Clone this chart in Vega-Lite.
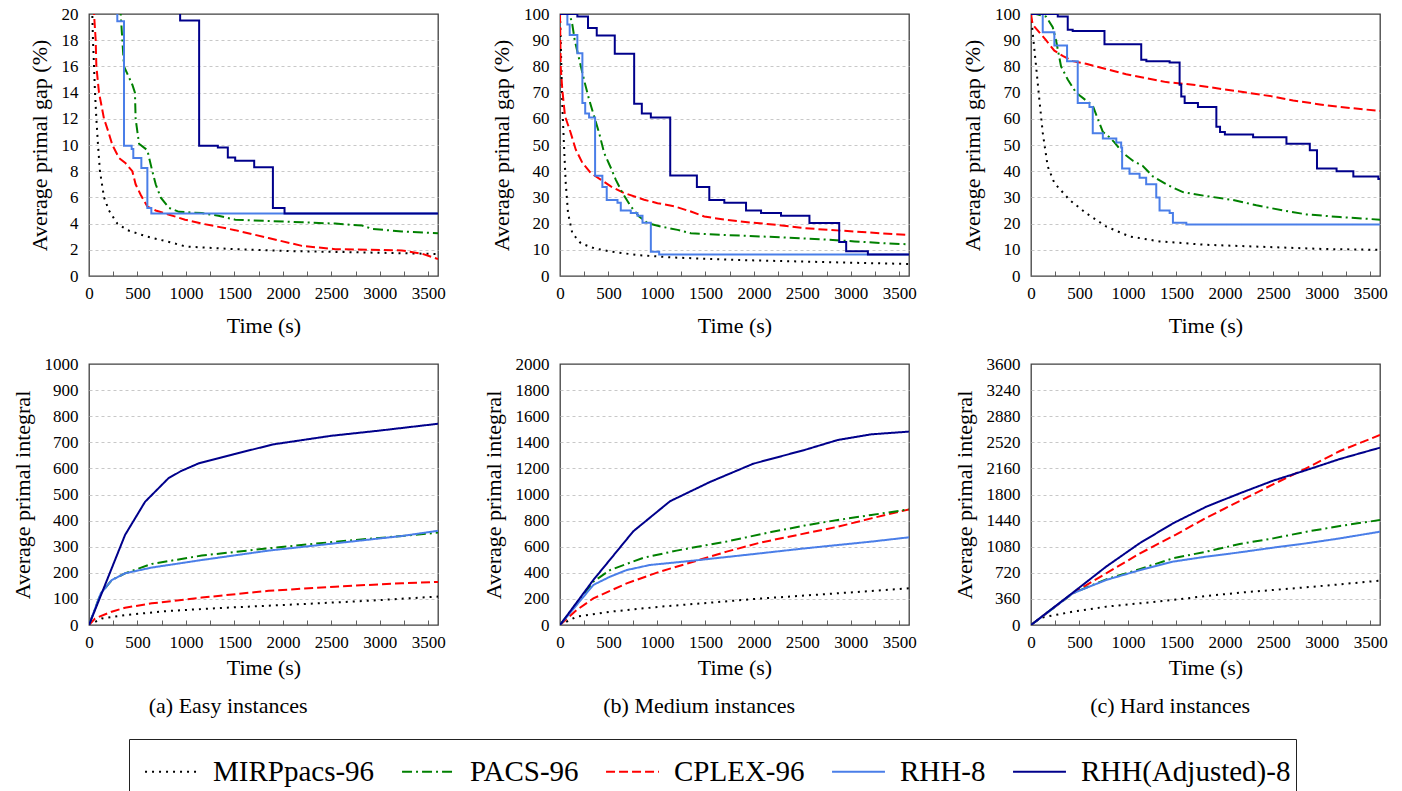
{
  "$schema": "https://vega.github.io/schema/vega-lite/v6.json",
  "background": "white",
  "padding": {"left": 10, "top": 4, "right": 5, "bottom": 0},
  "columns": 3,
  "bounds": "flush",
  "spacing": {"row": 88, "column": 122},
  "config": {
    "font": "Liberation Serif",
    "view": {"stroke": "#404040", "strokeWidth": 1.3},
    "axis": {"labelFont": "Liberation Serif", "titleFont": "Liberation Serif", "labelFontSize": 17, "labelColor": "#000", "titleFontSize": 22, "titleFontWeight": "normal", "titleColor": "#000", "domain": false, "gridColor": "#c8c8c8", "gridDash": [3, 3], "gridWidth": 1, "tickColor": "#606060", "labelOverlap": false, "labelFlush": false, "format": "d"},
    "axisX": {"grid": false, "tickSize": -5, "labelPadding": 14, "titlePadding": 14},
    "axisY": {"ticks": false, "labelPadding": 11, "titlePadding": 10},
    "legend": {"orient": "none", "legendX": 40, "legendY": 725, "direction": "horizontal", "labelFont": "Liberation Serif", "labelFontSize": 29, "labelColor": "#000", "labelLimit": 500, "symbolType": "stroke", "symbolSize": 2800, "symbolStrokeWidth": 2, "symbolOffset": 10, "strokeColor": "#222", "fillColor": "white", "padding": 5, "columnPadding": 16, "labelOffset": 14},
    "title": {"font": "Liberation Serif"}
  },
  "datasets": {
    "smooth": [
      {"panel":"gap-easy","series":"MIRPpacs-96","t":0,"v":100},{"panel":"gap-easy","series":"MIRPpacs-96","t":20,"v":40},{"panel":"gap-easy","series":"MIRPpacs-96","t":34,"v":20},{"panel":"gap-easy","series":"MIRPpacs-96","t":41,"v":18},{"panel":"gap-easy","series":"MIRPpacs-96","t":52,"v":16},{"panel":"gap-easy","series":"MIRPpacs-96","t":62,"v":14},{"panel":"gap-easy","series":"MIRPpacs-96","t":76,"v":12},{"panel":"gap-easy","series":"MIRPpacs-96","t":93,"v":10},{"panel":"gap-easy","series":"MIRPpacs-96","t":113,"v":8},{"panel":"gap-easy","series":"MIRPpacs-96","t":155,"v":6},{"panel":"gap-easy","series":"MIRPpacs-96","t":206,"v":5},{"panel":"gap-easy","series":"MIRPpacs-96","t":292,"v":4},{"panel":"gap-easy","series":"MIRPpacs-96","t":396,"v":3.5},{"panel":"gap-easy","series":"MIRPpacs-96","t":602,"v":3.0},{"panel":"gap-easy","series":"MIRPpacs-96","t":825,"v":2.6},{"panel":"gap-easy","series":"MIRPpacs-96","t":1000,"v":2.25},{"panel":"gap-easy","series":"MIRPpacs-96","t":1500,"v":2.05},{"panel":"gap-easy","series":"MIRPpacs-96","t":2063,"v":1.9},{"panel":"gap-easy","series":"MIRPpacs-96","t":2540,"v":1.84},{"panel":"gap-easy","series":"MIRPpacs-96","t":3228,"v":1.74},{"panel":"gap-easy","series":"MIRPpacs-96","t":3600,"v":1.68},
      {"panel":"gap-easy","series":"CPLEX-96","t":0,"v":100},{"panel":"gap-easy","series":"CPLEX-96","t":30,"v":40},{"panel":"gap-easy","series":"CPLEX-96","t":52,"v":20},{"panel":"gap-easy","series":"CPLEX-96","t":69,"v":18},{"panel":"gap-easy","series":"CPLEX-96","t":76,"v":16},{"panel":"gap-easy","series":"CPLEX-96","t":103,"v":14},{"panel":"gap-easy","series":"CPLEX-96","t":155,"v":12},{"panel":"gap-easy","series":"CPLEX-96","t":200,"v":11},{"panel":"gap-easy","series":"CPLEX-96","t":241,"v":10},{"panel":"gap-easy","series":"CPLEX-96","t":310,"v":9},{"panel":"gap-easy","series":"CPLEX-96","t":378,"v":8.6},{"panel":"gap-easy","series":"CPLEX-96","t":447,"v":8.0},{"panel":"gap-easy","series":"CPLEX-96","t":481,"v":7.0},{"panel":"gap-easy","series":"CPLEX-96","t":533,"v":6.2},{"panel":"gap-easy","series":"CPLEX-96","t":602,"v":5.3},{"panel":"gap-easy","series":"CPLEX-96","t":688,"v":5.0},{"panel":"gap-easy","series":"CPLEX-96","t":819,"v":4.7},{"panel":"gap-easy","series":"CPLEX-96","t":991,"v":4.3},{"panel":"gap-easy","series":"CPLEX-96","t":1164,"v":4.0},{"panel":"gap-easy","series":"CPLEX-96","t":1508,"v":3.5},{"panel":"gap-easy","series":"CPLEX-96","t":1852,"v":2.9},{"panel":"gap-easy","series":"CPLEX-96","t":2196,"v":2.3},{"panel":"gap-easy","series":"CPLEX-96","t":2540,"v":2.05},{"panel":"gap-easy","series":"CPLEX-96","t":2884,"v":2.0},{"panel":"gap-easy","series":"CPLEX-96","t":3228,"v":1.95},{"panel":"gap-easy","series":"CPLEX-96","t":3435,"v":1.7},{"panel":"gap-easy","series":"CPLEX-96","t":3600,"v":1.3},
      {"panel":"gap-easy","series":"PACS-96","t":0,"v":100},{"panel":"gap-easy","series":"PACS-96","t":300,"v":30},{"panel":"gap-easy","series":"PACS-96","t":327,"v":20},{"panel":"gap-easy","series":"PACS-96","t":361,"v":16},{"panel":"gap-easy","series":"PACS-96","t":447,"v":14.6},{"panel":"gap-easy","series":"PACS-96","t":474,"v":14},{"panel":"gap-easy","series":"PACS-96","t":481,"v":12},{"panel":"gap-easy","series":"PACS-96","t":516,"v":10.1},{"panel":"gap-easy","series":"PACS-96","t":602,"v":9.6},{"panel":"gap-easy","series":"PACS-96","t":653,"v":8},{"panel":"gap-easy","series":"PACS-96","t":688,"v":7},{"panel":"gap-easy","series":"PACS-96","t":739,"v":6},{"panel":"gap-easy","series":"PACS-96","t":825,"v":5.2},{"panel":"gap-easy","series":"PACS-96","t":928,"v":4.9},{"panel":"gap-easy","series":"PACS-96","t":1164,"v":4.8},{"panel":"gap-easy","series":"PACS-96","t":1335,"v":4.6},{"panel":"gap-easy","series":"PACS-96","t":1508,"v":4.3},{"panel":"gap-easy","series":"PACS-96","t":1852,"v":4.2},{"panel":"gap-easy","series":"PACS-96","t":2196,"v":4.1},{"panel":"gap-easy","series":"PACS-96","t":2540,"v":4.0},{"panel":"gap-easy","series":"PACS-96","t":2816,"v":3.85},{"panel":"gap-easy","series":"PACS-96","t":2920,"v":3.6},{"panel":"gap-easy","series":"PACS-96","t":3228,"v":3.4},{"panel":"gap-easy","series":"PACS-96","t":3600,"v":3.27},

      {"panel":"gap-med","series":"MIRPpacs-96","t":0,"v":100},{"panel":"gap-med","series":"MIRPpacs-96","t":14,"v":80},{"panel":"gap-med","series":"MIRPpacs-96","t":24,"v":65},{"panel":"gap-med","series":"MIRPpacs-96","t":41,"v":50},{"panel":"gap-med","series":"MIRPpacs-96","t":59,"v":35.5},{"panel":"gap-med","series":"MIRPpacs-96","t":83,"v":24},{"panel":"gap-med","series":"MIRPpacs-96","t":127,"v":16.3},{"panel":"gap-med","series":"MIRPpacs-96","t":214,"v":12.5},{"panel":"gap-med","series":"MIRPpacs-96","t":351,"v":10.6},{"panel":"gap-med","series":"MIRPpacs-96","t":524,"v":9.3},{"panel":"gap-med","series":"MIRPpacs-96","t":799,"v":8.0},{"panel":"gap-med","series":"MIRPpacs-96","t":1144,"v":7.1},{"panel":"gap-med","series":"MIRPpacs-96","t":1833,"v":6.1},{"panel":"gap-med","series":"MIRPpacs-96","t":2522,"v":5.5},{"panel":"gap-med","series":"MIRPpacs-96","t":3211,"v":4.9},{"panel":"gap-med","series":"MIRPpacs-96","t":3600,"v":4.6},
      {"panel":"gap-med","series":"CPLEX-96","t":0,"v":100},{"panel":"gap-med","series":"CPLEX-96","t":7,"v":80},{"panel":"gap-med","series":"CPLEX-96","t":24,"v":71},{"panel":"gap-med","series":"CPLEX-96","t":52,"v":61},{"panel":"gap-med","series":"CPLEX-96","t":110,"v":54.7},{"panel":"gap-med","series":"CPLEX-96","t":162,"v":48.3},{"panel":"gap-med","series":"CPLEX-96","t":231,"v":43.2},{"panel":"gap-med","series":"CPLEX-96","t":317,"v":39.3},{"panel":"gap-med","series":"CPLEX-96","t":420,"v":36.8},{"panel":"gap-med","series":"CPLEX-96","t":524,"v":34.2},{"panel":"gap-med","series":"CPLEX-96","t":661,"v":31.7},{"panel":"gap-med","series":"CPLEX-96","t":868,"v":29.1},{"panel":"gap-med","series":"CPLEX-96","t":1006,"v":27.8},{"panel":"gap-med","series":"CPLEX-96","t":1178,"v":26.6},{"panel":"gap-med","series":"CPLEX-96","t":1350,"v":24.6},{"panel":"gap-med","series":"CPLEX-96","t":1488,"v":22.7},{"panel":"gap-med","series":"CPLEX-96","t":1695,"v":21.5},{"panel":"gap-med","series":"CPLEX-96","t":1970,"v":20.4},{"panel":"gap-med","series":"CPLEX-96","t":2246,"v":19.5},{"panel":"gap-med","series":"CPLEX-96","t":2487,"v":18.4},{"panel":"gap-med","series":"CPLEX-96","t":2763,"v":17.6},{"panel":"gap-med","series":"CPLEX-96","t":3038,"v":17.0},{"panel":"gap-med","series":"CPLEX-96","t":3314,"v":16.3},{"panel":"gap-med","series":"CPLEX-96","t":3600,"v":15.7},
      {"panel":"gap-med","series":"PACS-96","t":0,"v":100},{"panel":"gap-med","series":"PACS-96","t":100,"v":100},{"panel":"gap-med","series":"PACS-96","t":127,"v":96},{"panel":"gap-med","series":"PACS-96","t":152,"v":90},{"panel":"gap-med","series":"PACS-96","t":214,"v":80.2},{"panel":"gap-med","series":"PACS-96","t":255,"v":73.8},{"panel":"gap-med","series":"PACS-96","t":300,"v":67.4},{"panel":"gap-med","series":"PACS-96","t":351,"v":61},{"panel":"gap-med","series":"PACS-96","t":403,"v":54.7},{"panel":"gap-med","series":"PACS-96","t":455,"v":47},{"panel":"gap-med","series":"PACS-96","t":517,"v":41.9},{"panel":"gap-med","series":"PACS-96","t":575,"v":36.8},{"panel":"gap-med","series":"PACS-96","t":644,"v":31.7},{"panel":"gap-med","series":"PACS-96","t":730,"v":26.6},{"panel":"gap-med","series":"PACS-96","t":816,"v":22.7},{"panel":"gap-med","series":"PACS-96","t":903,"v":20.2},{"panel":"gap-med","series":"PACS-96","t":1040,"v":18.9},{"panel":"gap-med","series":"PACS-96","t":1213,"v":17.6},{"panel":"gap-med","series":"PACS-96","t":1350,"v":16.3},{"panel":"gap-med","series":"PACS-96","t":1660,"v":15.7},{"panel":"gap-med","series":"PACS-96","t":2074,"v":15.1},{"panel":"gap-med","series":"PACS-96","t":2694,"v":14.0},{"panel":"gap-med","series":"PACS-96","t":3038,"v":13.2},{"panel":"gap-med","series":"PACS-96","t":3349,"v":12.5},{"panel":"gap-med","series":"PACS-96","t":3600,"v":12.1},

      {"panel":"gap-hard","series":"MIRPpacs-96","t":0,"v":100},{"panel":"gap-hard","series":"MIRPpacs-96","t":17,"v":93},{"panel":"gap-hard","series":"MIRPpacs-96","t":52,"v":80.2},{"panel":"gap-hard","series":"MIRPpacs-96","t":86,"v":67.4},{"panel":"gap-hard","series":"MIRPpacs-96","t":121,"v":54.7},{"panel":"gap-hard","series":"MIRPpacs-96","t":172,"v":41.9},{"panel":"gap-hard","series":"MIRPpacs-96","t":241,"v":35.5},{"panel":"gap-hard","series":"MIRPpacs-96","t":396,"v":29.1},{"panel":"gap-hard","series":"MIRPpacs-96","t":568,"v":24},{"panel":"gap-hard","series":"MIRPpacs-96","t":775,"v":18.9},{"panel":"gap-hard","series":"MIRPpacs-96","t":1016,"v":15.1},{"panel":"gap-hard","series":"MIRPpacs-96","t":1326,"v":13.2},{"panel":"gap-hard","series":"MIRPpacs-96","t":1809,"v":11.9},{"panel":"gap-hard","series":"MIRPpacs-96","t":2498,"v":11.0},{"panel":"gap-hard","series":"MIRPpacs-96","t":3014,"v":10.3},{"panel":"gap-hard","series":"MIRPpacs-96","t":3600,"v":10.0},
      {"panel":"gap-hard","series":"CPLEX-96","t":0,"v":100},{"panel":"gap-hard","series":"CPLEX-96","t":17,"v":96},{"panel":"gap-hard","series":"CPLEX-96","t":86,"v":93},{"panel":"gap-hard","series":"CPLEX-96","t":155,"v":90},{"panel":"gap-hard","series":"CPLEX-96","t":241,"v":86},{"panel":"gap-hard","series":"CPLEX-96","t":327,"v":84},{"panel":"gap-hard","series":"CPLEX-96","t":430,"v":82},{"panel":"gap-hard","series":"CPLEX-96","t":568,"v":81},{"panel":"gap-hard","series":"CPLEX-96","t":775,"v":79},{"panel":"gap-hard","series":"CPLEX-96","t":982,"v":77},{"panel":"gap-hard","series":"CPLEX-96","t":1188,"v":75.5},{"panel":"gap-hard","series":"CPLEX-96","t":1395,"v":74},{"panel":"gap-hard","series":"CPLEX-96","t":1671,"v":73},{"panel":"gap-hard","series":"CPLEX-96","t":1946,"v":71.5},{"panel":"gap-hard","series":"CPLEX-96","t":2222,"v":70},{"panel":"gap-hard","series":"CPLEX-96","t":2498,"v":68.5},{"panel":"gap-hard","series":"CPLEX-96","t":2704,"v":67},{"panel":"gap-hard","series":"CPLEX-96","t":2980,"v":65.5},{"panel":"gap-hard","series":"CPLEX-96","t":3187,"v":64.5},{"panel":"gap-hard","series":"CPLEX-96","t":3600,"v":63},
      {"panel":"gap-hard","series":"PACS-96","t":0,"v":100},{"panel":"gap-hard","series":"PACS-96","t":52,"v":100},{"panel":"gap-hard","series":"PACS-96","t":155,"v":99},{"panel":"gap-hard","series":"PACS-96","t":224,"v":95},{"panel":"gap-hard","series":"PACS-96","t":258,"v":90},{"panel":"gap-hard","series":"PACS-96","t":310,"v":80},{"panel":"gap-hard","series":"PACS-96","t":379,"v":75},{"panel":"gap-hard","series":"PACS-96","t":465,"v":70},{"panel":"gap-hard","series":"PACS-96","t":568,"v":67},{"panel":"gap-hard","series":"PACS-96","t":637,"v":65},{"panel":"gap-hard","series":"PACS-96","t":689,"v":60},{"panel":"gap-hard","series":"PACS-96","t":741,"v":55},{"panel":"gap-hard","series":"PACS-96","t":809,"v":53},{"panel":"gap-hard","series":"PACS-96","t":861,"v":51},{"panel":"gap-hard","series":"PACS-96","t":947,"v":47},{"panel":"gap-hard","series":"PACS-96","t":1051,"v":44},{"panel":"gap-hard","series":"PACS-96","t":1154,"v":42},{"panel":"gap-hard","series":"PACS-96","t":1257,"v":38},{"panel":"gap-hard","series":"PACS-96","t":1395,"v":35},{"panel":"gap-hard","series":"PACS-96","t":1567,"v":32},{"panel":"gap-hard","series":"PACS-96","t":1809,"v":30.5},{"panel":"gap-hard","series":"PACS-96","t":2084,"v":29},{"panel":"gap-hard","series":"PACS-96","t":2325,"v":27},{"panel":"gap-hard","series":"PACS-96","t":2601,"v":25},{"panel":"gap-hard","series":"PACS-96","t":2843,"v":23.5},{"panel":"gap-hard","series":"PACS-96","t":3187,"v":22.5},{"panel":"gap-hard","series":"PACS-96","t":3600,"v":21.5},

      {"panel":"int-easy","series":"MIRPpacs-96","t":0,"v":0},{"panel":"int-easy","series":"MIRPpacs-96","t":131,"v":25},{"panel":"int-easy","series":"MIRPpacs-96","t":372,"v":38},{"panel":"int-easy","series":"MIRPpacs-96","t":819,"v":54},{"panel":"int-easy","series":"MIRPpacs-96","t":1507,"v":68},{"panel":"int-easy","series":"MIRPpacs-96","t":2196,"v":80},{"panel":"int-easy","series":"MIRPpacs-96","t":2884,"v":93},{"panel":"int-easy","series":"MIRPpacs-96","t":3600,"v":109},
      {"panel":"int-easy","series":"CPLEX-96","t":0,"v":0},{"panel":"int-easy","series":"CPLEX-96","t":62,"v":25},{"panel":"int-easy","series":"CPLEX-96","t":234,"v":51},{"panel":"int-easy","series":"CPLEX-96","t":372,"v":66},{"panel":"int-easy","series":"CPLEX-96","t":647,"v":83},{"panel":"int-easy","series":"CPLEX-96","t":1163,"v":105},{"panel":"int-easy","series":"CPLEX-96","t":1852,"v":131},{"panel":"int-easy","series":"CPLEX-96","t":2540,"v":147},{"panel":"int-easy","series":"CPLEX-96","t":3228,"v":160},{"panel":"int-easy","series":"CPLEX-96","t":3600,"v":165},
      {"panel":"int-easy","series":"PACS-96","t":0,"v":0},{"panel":"int-easy","series":"PACS-96","t":120,"v":120},{"panel":"int-easy","series":"PACS-96","t":234,"v":172},{"panel":"int-easy","series":"PACS-96","t":372,"v":198},{"panel":"int-easy","series":"PACS-96","t":647,"v":234},{"panel":"int-easy","series":"PACS-96","t":1163,"v":266},{"panel":"int-easy","series":"PACS-96","t":1852,"v":294},{"panel":"int-easy","series":"PACS-96","t":2540,"v":319},{"panel":"int-easy","series":"PACS-96","t":3228,"v":341},{"panel":"int-easy","series":"PACS-96","t":3600,"v":354},
      {"panel":"int-easy","series":"RHH-8","t":0,"v":0},{"panel":"int-easy","series":"RHH-8","t":120,"v":120},{"panel":"int-easy","series":"RHH-8","t":234,"v":172},{"panel":"int-easy","series":"RHH-8","t":372,"v":198},{"panel":"int-easy","series":"RHH-8","t":647,"v":220},{"panel":"int-easy","series":"RHH-8","t":1163,"v":249},{"panel":"int-easy","series":"RHH-8","t":1852,"v":285},{"panel":"int-easy","series":"RHH-8","t":2540,"v":313},{"panel":"int-easy","series":"RHH-8","t":3228,"v":341},{"panel":"int-easy","series":"RHH-8","t":3600,"v":361},
      {"panel":"int-easy","series":"RHH(Adjusted)-8","t":0,"v":0},{"panel":"int-easy","series":"RHH(Adjusted)-8","t":372,"v":345},{"panel":"int-easy","series":"RHH(Adjusted)-8","t":578,"v":472},{"panel":"int-easy","series":"RHH(Adjusted)-8","t":819,"v":562},{"panel":"int-easy","series":"RHH(Adjusted)-8","t":950,"v":590},{"panel":"int-easy","series":"RHH(Adjusted)-8","t":1136,"v":620},{"panel":"int-easy","series":"RHH(Adjusted)-8","t":1500,"v":655},{"panel":"int-easy","series":"RHH(Adjusted)-8","t":1900,"v":692},{"panel":"int-easy","series":"RHH(Adjusted)-8","t":2500,"v":725},{"panel":"int-easy","series":"RHH(Adjusted)-8","t":3000,"v":745},{"panel":"int-easy","series":"RHH(Adjusted)-8","t":3600,"v":771},

      {"panel":"int-med","series":"MIRPpacs-96","t":0,"v":0},{"panel":"int-med","series":"MIRPpacs-96","t":172,"v":64},{"panel":"int-med","series":"MIRPpacs-96","t":516,"v":102},{"panel":"int-med","series":"MIRPpacs-96","t":1031,"v":140},{"panel":"int-med","series":"MIRPpacs-96","t":1547,"v":171},{"panel":"int-med","series":"MIRPpacs-96","t":1994,"v":199},{"panel":"int-med","series":"MIRPpacs-96","t":2866,"v":243},{"panel":"int-med","series":"MIRPpacs-96","t":3600,"v":281},
      {"panel":"int-med","series":"CPLEX-96","t":0,"v":0},{"panel":"int-med","series":"CPLEX-96","t":172,"v":115},{"panel":"int-med","series":"CPLEX-96","t":344,"v":204},{"panel":"int-med","series":"CPLEX-96","t":688,"v":319},{"panel":"int-med","series":"CPLEX-96","t":1031,"v":409},{"panel":"int-med","series":"CPLEX-96","t":1375,"v":485},{"panel":"int-med","series":"CPLEX-96","t":1719,"v":562},{"panel":"int-med","series":"CPLEX-96","t":2063,"v":631},{"panel":"int-med","series":"CPLEX-96","t":2866,"v":753},{"panel":"int-med","series":"CPLEX-96","t":3211,"v":817},{"panel":"int-med","series":"CPLEX-96","t":3600,"v":886},
      {"panel":"int-med","series":"PACS-96","t":0,"v":0},{"panel":"int-med","series":"PACS-96","t":344,"v":332},{"panel":"int-med","series":"PACS-96","t":516,"v":421},{"panel":"int-med","series":"PACS-96","t":860,"v":515},{"panel":"int-med","series":"PACS-96","t":1203,"v":570},{"panel":"int-med","series":"PACS-96","t":1719,"v":640},{"panel":"int-med","series":"PACS-96","t":2177,"v":712},{"panel":"int-med","series":"PACS-96","t":2522,"v":762},{"panel":"int-med","series":"PACS-96","t":2866,"v":805},{"panel":"int-med","series":"PACS-96","t":3211,"v":843},{"panel":"int-med","series":"PACS-96","t":3600,"v":886},
      {"panel":"int-med","series":"RHH-8","t":0,"v":0},{"panel":"int-med","series":"RHH-8","t":344,"v":307},{"panel":"int-med","series":"RHH-8","t":516,"v":370},{"panel":"int-med","series":"RHH-8","t":688,"v":421},{"panel":"int-med","series":"RHH-8","t":928,"v":460},{"panel":"int-med","series":"RHH-8","t":1375,"v":493},{"panel":"int-med","series":"RHH-8","t":2063,"v":549},{"panel":"int-med","series":"RHH-8","t":2522,"v":587},{"panel":"int-med","series":"RHH-8","t":3211,"v":639},{"panel":"int-med","series":"RHH-8","t":3600,"v":672},
      {"panel":"int-med","series":"RHH(Adjusted)-8","t":0,"v":0},{"panel":"int-med","series":"RHH(Adjusted)-8","t":344,"v":345},{"panel":"int-med","series":"RHH(Adjusted)-8","t":756,"v":718},{"panel":"int-med","series":"RHH(Adjusted)-8","t":1134,"v":948},{"panel":"int-med","series":"RHH(Adjusted)-8","t":1547,"v":1096},{"panel":"int-med","series":"RHH(Adjusted)-8","t":1994,"v":1236},{"panel":"int-med","series":"RHH(Adjusted)-8","t":2522,"v":1341},{"panel":"int-med","series":"RHH(Adjusted)-8","t":2866,"v":1418},{"panel":"int-med","series":"RHH(Adjusted)-8","t":3211,"v":1461},{"panel":"int-med","series":"RHH(Adjusted)-8","t":3600,"v":1482},

      {"panel":"int-hard","series":"MIRPpacs-96","t":0,"v":0},{"panel":"int-hard","series":"MIRPpacs-96","t":100,"v":100},{"panel":"int-hard","series":"MIRPpacs-96","t":431,"v":184},{"panel":"int-hard","series":"MIRPpacs-96","t":775,"v":253},{"panel":"int-hard","series":"MIRPpacs-96","t":1120,"v":299},{"panel":"int-hard","series":"MIRPpacs-96","t":1464,"v":345},{"panel":"int-hard","series":"MIRPpacs-96","t":1809,"v":400},{"panel":"int-hard","series":"MIRPpacs-96","t":2153,"v":446},{"panel":"int-hard","series":"MIRPpacs-96","t":2498,"v":483},{"panel":"int-hard","series":"MIRPpacs-96","t":2843,"v":520},{"panel":"int-hard","series":"MIRPpacs-96","t":3187,"v":561},{"panel":"int-hard","series":"MIRPpacs-96","t":3600,"v":612},
      {"panel":"int-hard","series":"CPLEX-96","t":0,"v":0},{"panel":"int-hard","series":"CPLEX-96","t":431,"v":437},{"panel":"int-hard","series":"CPLEX-96","t":775,"v":713},{"panel":"int-hard","series":"CPLEX-96","t":1120,"v":985},{"panel":"int-hard","series":"CPLEX-96","t":1500,"v":1250},{"panel":"int-hard","series":"CPLEX-96","t":1809,"v":1480},{"panel":"int-hard","series":"CPLEX-96","t":2153,"v":1710},{"panel":"int-hard","series":"CPLEX-96","t":2498,"v":1940},{"panel":"int-hard","series":"CPLEX-96","t":2843,"v":2165},{"panel":"int-hard","series":"CPLEX-96","t":3187,"v":2400},{"panel":"int-hard","series":"CPLEX-96","t":3600,"v":2621},
      {"panel":"int-hard","series":"PACS-96","t":0,"v":0},{"panel":"int-hard","series":"PACS-96","t":431,"v":437},{"panel":"int-hard","series":"PACS-96","t":775,"v":630},{"panel":"int-hard","series":"PACS-96","t":1120,"v":770},{"panel":"int-hard","series":"PACS-96","t":1464,"v":920},{"panel":"int-hard","series":"PACS-96","t":1809,"v":1012},{"panel":"int-hard","series":"PACS-96","t":2153,"v":1117},{"panel":"int-hard","series":"PACS-96","t":2498,"v":1195},{"panel":"int-hard","series":"PACS-96","t":2843,"v":1287},{"panel":"int-hard","series":"PACS-96","t":3187,"v":1366},{"panel":"int-hard","series":"PACS-96","t":3600,"v":1448},
      {"panel":"int-hard","series":"RHH-8","t":0,"v":0},{"panel":"int-hard","series":"RHH-8","t":431,"v":437},{"panel":"int-hard","series":"RHH-8","t":775,"v":621},{"panel":"int-hard","series":"RHH-8","t":1120,"v":755},{"panel":"int-hard","series":"RHH-8","t":1464,"v":874},{"panel":"int-hard","series":"RHH-8","t":1809,"v":943},{"panel":"int-hard","series":"RHH-8","t":2153,"v":1002},{"panel":"int-hard","series":"RHH-8","t":2498,"v":1067},{"panel":"int-hard","series":"RHH-8","t":2843,"v":1127},{"panel":"int-hard","series":"RHH-8","t":3187,"v":1195},{"panel":"int-hard","series":"RHH-8","t":3600,"v":1287},
      {"panel":"int-hard","series":"RHH(Adjusted)-8","t":0,"v":0},{"panel":"int-hard","series":"RHH(Adjusted)-8","t":431,"v":445},{"panel":"int-hard","series":"RHH(Adjusted)-8","t":775,"v":805},{"panel":"int-hard","series":"RHH(Adjusted)-8","t":1120,"v":1127},{"panel":"int-hard","series":"RHH(Adjusted)-8","t":1464,"v":1402},{"panel":"int-hard","series":"RHH(Adjusted)-8","t":1809,"v":1632},{"panel":"int-hard","series":"RHH(Adjusted)-8","t":2153,"v":1816},{"panel":"int-hard","series":"RHH(Adjusted)-8","t":2498,"v":1991},{"panel":"int-hard","series":"RHH(Adjusted)-8","t":2843,"v":2138},{"panel":"int-hard","series":"RHH(Adjusted)-8","t":3187,"v":2290},{"panel":"int-hard","series":"RHH(Adjusted)-8","t":3600,"v":2446}
    ],
    "steps": [
      {"panel":"gap-easy","series":"RHH-8","t":0,"v":100},{"panel":"gap-easy","series":"RHH-8","t":292,"v":19.45},{"panel":"gap-easy","series":"RHH-8","t":361,"v":9.95},{"panel":"gap-easy","series":"RHH-8","t":440,"v":9.7},{"panel":"gap-easy","series":"RHH-8","t":457,"v":9.0},{"panel":"gap-easy","series":"RHH-8","t":540,"v":8.25},{"panel":"gap-easy","series":"RHH-8","t":602,"v":5.2},{"panel":"gap-easy","series":"RHH-8","t":643,"v":4.78},{"panel":"gap-easy","series":"RHH-8","t":3600,"v":4.78},
      {"panel":"gap-easy","series":"RHH(Adjusted)-8","t":0,"v":100},{"panel":"gap-easy","series":"RHH(Adjusted)-8","t":940,"v":19.5},{"panel":"gap-easy","series":"RHH(Adjusted)-8","t":1136,"v":9.95},{"panel":"gap-easy","series":"RHH(Adjusted)-8","t":1329,"v":9.8},{"panel":"gap-easy","series":"RHH(Adjusted)-8","t":1432,"v":9.05},{"panel":"gap-easy","series":"RHH(Adjusted)-8","t":1508,"v":8.8},{"panel":"gap-easy","series":"RHH(Adjusted)-8","t":1704,"v":8.3},{"panel":"gap-easy","series":"RHH(Adjusted)-8","t":1897,"v":5.2},{"panel":"gap-easy","series":"RHH(Adjusted)-8","t":2017,"v":4.78},{"panel":"gap-easy","series":"RHH(Adjusted)-8","t":3600,"v":4.78},
      {"panel":"gap-med","series":"RHH-8","t":0,"v":100},{"panel":"gap-med","series":"RHH-8","t":76,"v":96},{"panel":"gap-med","series":"RHH-8","t":100,"v":92},{"panel":"gap-med","series":"RHH-8","t":179,"v":85},{"panel":"gap-med","series":"RHH-8","t":231,"v":66},{"panel":"gap-med","series":"RHH-8","t":260,"v":62},{"panel":"gap-med","series":"RHH-8","t":300,"v":60.5},{"panel":"gap-med","series":"RHH-8","t":362,"v":38.3},{"panel":"gap-med","series":"RHH-8","t":437,"v":34},{"panel":"gap-med","series":"RHH-8","t":482,"v":29},{"panel":"gap-med","series":"RHH-8","t":593,"v":28},{"panel":"gap-med","series":"RHH-8","t":627,"v":25},{"panel":"gap-med","series":"RHH-8","t":730,"v":24},{"panel":"gap-med","series":"RHH-8","t":799,"v":23},{"panel":"gap-med","series":"RHH-8","t":851,"v":20.3},{"panel":"gap-med","series":"RHH-8","t":937,"v":9.3},{"panel":"gap-med","series":"RHH-8","t":1023,"v":8.2},{"panel":"gap-med","series":"RHH-8","t":3600,"v":8.2},
      {"panel":"gap-med","series":"RHH(Adjusted)-8","t":0,"v":100},{"panel":"gap-med","series":"RHH(Adjusted)-8","t":179,"v":99},{"panel":"gap-med","series":"RHH(Adjusted)-8","t":289,"v":94.7},{"panel":"gap-med","series":"RHH(Adjusted)-8","t":379,"v":91.8},{"panel":"gap-med","series":"RHH(Adjusted)-8","t":565,"v":84.8},{"panel":"gap-med","series":"RHH(Adjusted)-8","t":765,"v":65.7},{"panel":"gap-med","series":"RHH(Adjusted)-8","t":844,"v":62},{"panel":"gap-med","series":"RHH(Adjusted)-8","t":937,"v":60.5},{"panel":"gap-med","series":"RHH(Adjusted)-8","t":1137,"v":38.4},{"panel":"gap-med","series":"RHH(Adjusted)-8","t":1412,"v":34},{"panel":"gap-med","series":"RHH(Adjusted)-8","t":1540,"v":29},{"panel":"gap-med","series":"RHH(Adjusted)-8","t":1695,"v":28},{"panel":"gap-med","series":"RHH(Adjusted)-8","t":1919,"v":25},{"panel":"gap-med","series":"RHH(Adjusted)-8","t":2074,"v":24},{"panel":"gap-med","series":"RHH(Adjusted)-8","t":2280,"v":23},{"panel":"gap-med","series":"RHH(Adjusted)-8","t":2573,"v":20.2},{"panel":"gap-med","series":"RHH(Adjusted)-8","t":2880,"v":13},{"panel":"gap-med","series":"RHH(Adjusted)-8","t":2952,"v":9.4},{"panel":"gap-med","series":"RHH(Adjusted)-8","t":3176,"v":8.2},{"panel":"gap-med","series":"RHH(Adjusted)-8","t":3600,"v":8.2},
      {"panel":"gap-hard","series":"RHH-8","t":0,"v":100},{"panel":"gap-hard","series":"RHH-8","t":121,"v":93},{"panel":"gap-hard","series":"RHH-8","t":241,"v":88},{"panel":"gap-hard","series":"RHH-8","t":372,"v":82},{"panel":"gap-hard","series":"RHH-8","t":482,"v":66},{"panel":"gap-hard","series":"RHH-8","t":603,"v":64.5},{"panel":"gap-hard","series":"RHH-8","t":637,"v":54.5},{"panel":"gap-hard","series":"RHH-8","t":741,"v":52.5},{"panel":"gap-hard","series":"RHH-8","t":880,"v":51},{"panel":"gap-hard","series":"RHH-8","t":930,"v":49},{"panel":"gap-hard","series":"RHH-8","t":940,"v":41},{"panel":"gap-hard","series":"RHH-8","t":1016,"v":39},{"panel":"gap-hard","series":"RHH-8","t":1120,"v":37.5},{"panel":"gap-hard","series":"RHH-8","t":1188,"v":35},{"panel":"gap-hard","series":"RHH-8","t":1292,"v":30},{"panel":"gap-hard","series":"RHH-8","t":1326,"v":25},{"panel":"gap-hard","series":"RHH-8","t":1430,"v":24},{"panel":"gap-hard","series":"RHH-8","t":1464,"v":20.3},{"panel":"gap-hard","series":"RHH-8","t":1602,"v":19.7},{"panel":"gap-hard","series":"RHH-8","t":3600,"v":19.7},
      {"panel":"gap-hard","series":"RHH(Adjusted)-8","t":0,"v":100},{"panel":"gap-hard","series":"RHH(Adjusted)-8","t":276,"v":99},{"panel":"gap-hard","series":"RHH(Adjusted)-8","t":379,"v":94},{"panel":"gap-hard","series":"RHH(Adjusted)-8","t":430,"v":93.5},{"panel":"gap-hard","series":"RHH(Adjusted)-8","t":758,"v":88.5},{"panel":"gap-hard","series":"RHH(Adjusted)-8","t":1137,"v":82.5},{"panel":"gap-hard","series":"RHH(Adjusted)-8","t":1190,"v":82},{"panel":"gap-hard","series":"RHH(Adjusted)-8","t":1430,"v":81.5},{"panel":"gap-hard","series":"RHH(Adjusted)-8","t":1533,"v":73},{"panel":"gap-hard","series":"RHH(Adjusted)-8","t":1550,"v":68.5},{"panel":"gap-hard","series":"RHH(Adjusted)-8","t":1585,"v":66},{"panel":"gap-hard","series":"RHH(Adjusted)-8","t":1722,"v":64.5},{"panel":"gap-hard","series":"RHH(Adjusted)-8","t":1912,"v":57},{"panel":"gap-hard","series":"RHH(Adjusted)-8","t":1950,"v":55},{"panel":"gap-hard","series":"RHH(Adjusted)-8","t":2000,"v":54},{"panel":"gap-hard","series":"RHH(Adjusted)-8","t":2291,"v":53},{"panel":"gap-hard","series":"RHH(Adjusted)-8","t":2635,"v":50.5},{"panel":"gap-hard","series":"RHH(Adjusted)-8","t":2876,"v":48},{"panel":"gap-hard","series":"RHH(Adjusted)-8","t":2950,"v":41},{"panel":"gap-hard","series":"RHH(Adjusted)-8","t":3152,"v":40},{"panel":"gap-hard","series":"RHH(Adjusted)-8","t":3325,"v":38},{"panel":"gap-hard","series":"RHH(Adjusted)-8","t":3583,"v":37},{"panel":"gap-hard","series":"RHH(Adjusted)-8","t":3600,"v":37}
    ]
  },
  "concat": [
    {
      "width": 349, "height": 262,
      "layer": [
        {"data": {"name": "smooth"}, "transform": [{"filter": "datum.panel === 'gap-easy'"}], "mark": {"type": "line", "clip": true, "strokeWidth": 2}},
        {"data": {"name": "steps"}, "transform": [{"filter": "datum.panel === 'gap-easy'"}], "mark": {"type": "line", "clip": true, "strokeWidth": 2, "interpolate": "step-after"}}
      ],
      "encoding": {
        "x": {"field": "t", "type": "quantitative", "scale": {"domain": [0, 3600], "nice": false}, "axis": {"title": "Time (s)", "values": [0,250,500,750,1000,1250,1500,1750,2000,2250,2500,2750,3000,3250,3500], "labelExpr": "datum.value % 500 === 0 ? datum.label : ''"}},
        "y": {"field": "v", "type": "quantitative", "scale": {"domain": [0, 20], "nice": false}, "axis": {"title": "Average primal gap (%)", "values": [0,2,4,6,8,10,12,14,16,18,20], "gridOpacity": {"condition": {"test": "datum.index === 0 || datum.index === 1", "value": 0}, "value": 1}}},
        "color": {"field": "series", "type": "nominal", "scale": {"domain": ["MIRPpacs-96","PACS-96","CPLEX-96","RHH-8","RHH(Adjusted)-8"], "range": ["#000000","#008000","#ff0000","#4a7ee8","#00008b"]}, "legend": {"title": null}},
        "strokeDash": {"field": "series", "type": "nominal", "scale": {"domain": ["MIRPpacs-96","PACS-96","CPLEX-96","RHH-8","RHH(Adjusted)-8"], "range": [[2,5],[10,4,2,4],[9,4],[1,0],[1,0]]}, "legend": {"title": null}}
      }
    },
    {
      "width": 349, "height": 262,
      "layer": [
        {"data": {"name": "smooth"}, "transform": [{"filter": "datum.panel === 'gap-med'"}], "mark": {"type": "line", "clip": true, "strokeWidth": 2}},
        {"data": {"name": "steps"}, "transform": [{"filter": "datum.panel === 'gap-med'"}], "mark": {"type": "line", "clip": true, "strokeWidth": 2, "interpolate": "step-after"}}
      ],
      "encoding": {
        "x": {"field": "t", "type": "quantitative", "scale": {"domain": [0, 3600], "nice": false}, "axis": {"title": "Time (s)", "values": [0,250,500,750,1000,1250,1500,1750,2000,2250,2500,2750,3000,3250,3500], "labelExpr": "datum.value % 500 === 0 ? datum.label : ''"}},
        "y": {"field": "v", "type": "quantitative", "scale": {"domain": [0, 100], "nice": false}, "axis": {"title": "Average primal gap (%)", "values": [0,10,20,30,40,50,60,70,80,90,100], "gridOpacity": {"condition": {"test": "datum.index === 0 || datum.index === 1", "value": 0}, "value": 1}}},
        "color": {"field": "series", "type": "nominal", "scale": {"domain": ["MIRPpacs-96","PACS-96","CPLEX-96","RHH-8","RHH(Adjusted)-8"], "range": ["#000000","#008000","#ff0000","#4a7ee8","#00008b"]}, "legend": {"title": null}},
        "strokeDash": {"field": "series", "type": "nominal", "scale": {"domain": ["MIRPpacs-96","PACS-96","CPLEX-96","RHH-8","RHH(Adjusted)-8"], "range": [[2,5],[10,4,2,4],[9,4],[1,0],[1,0]]}, "legend": {"title": null}}
      }
    },
    {
      "width": 349, "height": 262,
      "layer": [
        {"data": {"name": "smooth"}, "transform": [{"filter": "datum.panel === 'gap-hard'"}], "mark": {"type": "line", "clip": true, "strokeWidth": 2}},
        {"data": {"name": "steps"}, "transform": [{"filter": "datum.panel === 'gap-hard'"}], "mark": {"type": "line", "clip": true, "strokeWidth": 2, "interpolate": "step-after"}}
      ],
      "encoding": {
        "x": {"field": "t", "type": "quantitative", "scale": {"domain": [0, 3600], "nice": false}, "axis": {"title": "Time (s)", "values": [0,250,500,750,1000,1250,1500,1750,2000,2250,2500,2750,3000,3250,3500], "labelExpr": "datum.value % 500 === 0 ? datum.label : ''"}},
        "y": {"field": "v", "type": "quantitative", "scale": {"domain": [0, 100], "nice": false}, "axis": {"title": "Average primal gap (%)", "values": [0,10,20,30,40,50,60,70,80,90,100], "gridOpacity": {"condition": {"test": "datum.index === 0 || datum.index === 1", "value": 0}, "value": 1}}},
        "color": {"field": "series", "type": "nominal", "scale": {"domain": ["MIRPpacs-96","PACS-96","CPLEX-96","RHH-8","RHH(Adjusted)-8"], "range": ["#000000","#008000","#ff0000","#4a7ee8","#00008b"]}, "legend": {"title": null}},
        "strokeDash": {"field": "series", "type": "nominal", "scale": {"domain": ["MIRPpacs-96","PACS-96","CPLEX-96","RHH-8","RHH(Adjusted)-8"], "range": [[2,5],[10,4,2,4],[9,4],[1,0],[1,0]]}, "legend": {"title": null}}
      }
    },
    {
      "width": 349, "height": 261,
      "title": {"text": "(a) Easy instances", "font": "Liberation Serif", "fontSize": 22, "fontWeight": "normal", "color": "#000", "orient": "bottom", "anchor": "middle", "frame": "bounds", "offset": 18},
      "data": {"name": "smooth"},
      "transform": [{"filter": "datum.panel === 'int-easy'"}],
      "mark": {"type": "line", "clip": true, "strokeWidth": 2},
      "encoding": {
        "x": {"field": "t", "type": "quantitative", "scale": {"domain": [0, 3600], "nice": false}, "axis": {"title": "Time (s)", "titlePadding": 7, "values": [0,250,500,750,1000,1250,1500,1750,2000,2250,2500,2750,3000,3250,3500], "labelExpr": "datum.value % 500 === 0 ? datum.label : ''"}},
        "y": {"field": "v", "type": "quantitative", "scale": {"domain": [0, 1000], "nice": false}, "axis": {"title": "Average primal integral", "values": [0,100,200,300,400,500,600,700,800,900,1000], "gridOpacity": {"condition": {"test": "datum.index === 0 || datum.index === 1", "value": 0}, "value": 1}}},
        "color": {"field": "series", "type": "nominal", "scale": {"domain": ["MIRPpacs-96","PACS-96","CPLEX-96","RHH-8","RHH(Adjusted)-8"], "range": ["#000000","#008000","#ff0000","#4a7ee8","#00008b"]}, "legend": {"title": null}},
        "strokeDash": {"field": "series", "type": "nominal", "scale": {"domain": ["MIRPpacs-96","PACS-96","CPLEX-96","RHH-8","RHH(Adjusted)-8"], "range": [[2,5],[10,4,2,4],[9,4],[1,0],[1,0]]}, "legend": {"title": null}}
      }
    },
    {
      "width": 349, "height": 261,
      "title": {"text": "(b) Medium instances", "font": "Liberation Serif", "fontSize": 22, "fontWeight": "normal", "color": "#000", "orient": "bottom", "anchor": "middle", "frame": "bounds", "offset": 18},
      "data": {"name": "smooth"},
      "transform": [{"filter": "datum.panel === 'int-med'"}],
      "mark": {"type": "line", "clip": true, "strokeWidth": 2},
      "encoding": {
        "x": {"field": "t", "type": "quantitative", "scale": {"domain": [0, 3600], "nice": false}, "axis": {"title": "Time (s)", "titlePadding": 7, "values": [0,250,500,750,1000,1250,1500,1750,2000,2250,2500,2750,3000,3250,3500], "labelExpr": "datum.value % 500 === 0 ? datum.label : ''"}},
        "y": {"field": "v", "type": "quantitative", "scale": {"domain": [0, 2000], "nice": false}, "axis": {"title": "Average primal integral", "values": [0,200,400,600,800,1000,1200,1400,1600,1800,2000], "gridOpacity": {"condition": {"test": "datum.index === 0 || datum.index === 1", "value": 0}, "value": 1}}},
        "color": {"field": "series", "type": "nominal", "scale": {"domain": ["MIRPpacs-96","PACS-96","CPLEX-96","RHH-8","RHH(Adjusted)-8"], "range": ["#000000","#008000","#ff0000","#4a7ee8","#00008b"]}, "legend": {"title": null}},
        "strokeDash": {"field": "series", "type": "nominal", "scale": {"domain": ["MIRPpacs-96","PACS-96","CPLEX-96","RHH-8","RHH(Adjusted)-8"], "range": [[2,5],[10,4,2,4],[9,4],[1,0],[1,0]]}, "legend": {"title": null}}
      }
    },
    {
      "width": 349, "height": 261,
      "title": {"text": "(c) Hard instances", "font": "Liberation Serif", "fontSize": 22, "fontWeight": "normal", "color": "#000", "orient": "bottom", "anchor": "middle", "frame": "bounds", "offset": 18},
      "data": {"name": "smooth"},
      "transform": [{"filter": "datum.panel === 'int-hard'"}],
      "mark": {"type": "line", "clip": true, "strokeWidth": 2},
      "encoding": {
        "x": {"field": "t", "type": "quantitative", "scale": {"domain": [0, 3600], "nice": false}, "axis": {"title": "Time (s)", "titlePadding": 7, "values": [0,250,500,750,1000,1250,1500,1750,2000,2250,2500,2750,3000,3250,3500], "labelExpr": "datum.value % 500 === 0 ? datum.label : ''"}},
        "y": {"field": "v", "type": "quantitative", "scale": {"domain": [0, 3600], "nice": false}, "axis": {"title": "Average primal integral", "values": [0,360,720,1080,1440,1800,2160,2520,2880,3240,3600], "gridOpacity": {"condition": {"test": "datum.index === 0 || datum.index === 1", "value": 0}, "value": 1}}},
        "color": {"field": "series", "type": "nominal", "scale": {"domain": ["MIRPpacs-96","PACS-96","CPLEX-96","RHH-8","RHH(Adjusted)-8"], "range": ["#000000","#008000","#ff0000","#4a7ee8","#00008b"]}, "legend": {"title": null}},
        "strokeDash": {"field": "series", "type": "nominal", "scale": {"domain": ["MIRPpacs-96","PACS-96","CPLEX-96","RHH-8","RHH(Adjusted)-8"], "range": [[2,5],[10,4,2,4],[9,4],[1,0],[1,0]]}, "legend": {"title": null}}
      }
    }
  ]
}
